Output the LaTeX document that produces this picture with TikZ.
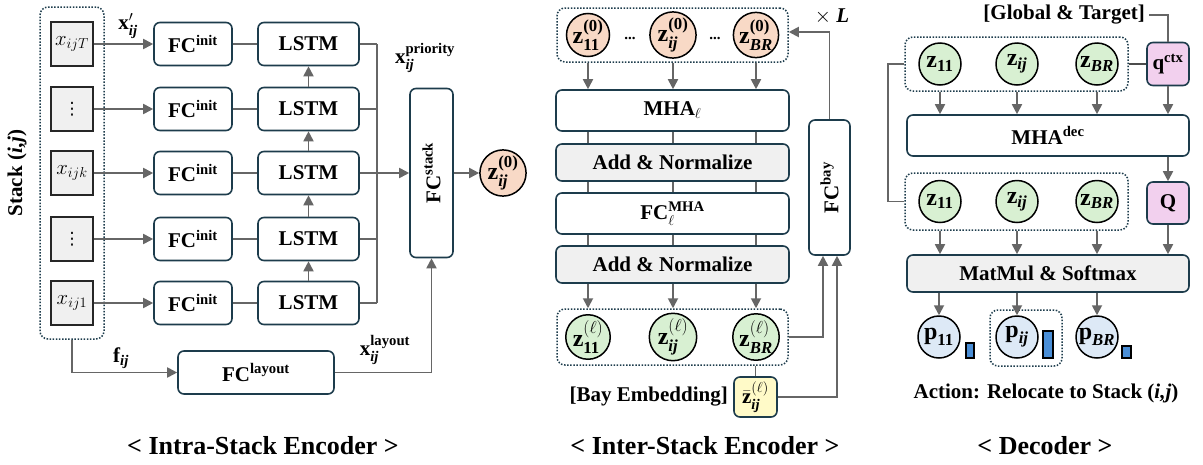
\documentclass[tikz,border=0pt]{standalone}
\usepackage{amsmath}
\usepackage{graphicx}
\usepackage{fontspec}
\setmainfont{Liberation Serif}
\newfontfamily\symfont{DejaVu Sans}
\usetikzlibrary{arrows.meta}

\definecolor{edge}{HTML}{1D3C4C}
\definecolor{wirec}{HTML}{666666}
\definecolor{panel}{HTML}{F0F0F0}
\definecolor{peach}{HTML}{F8D9C6}
\definecolor{mint}{HTML}{D8F0D2}
\definecolor{rose}{HTML}{F2D0EE}
\definecolor{sky}{HTML}{DDE9F6}
\definecolor{barc}{HTML}{4A8ED6}
\definecolor{cream}{HTML}{FFFAC8}

% bold upright / bold italic text inside math
\newcommand{\bt}[1]{\text{\bfseries #1}}
\newcommand{\bit}[1]{\text{\bfseries\itshape #1}}
\newcommand{\vdotsglyph}{{\symfont\mdseries\fontsize{17}{17}\selectfont ⋮}}

\tikzset{
  box/.style={draw=edge, line width=1.6pt, rounded corners=6pt, fill=white, inner sep=0pt},
  greybox/.style={box, fill=panel},
  cell/.style={draw=black!85, line width=1.5pt, fill=panel, inner sep=0pt, minimum width=42, minimum height=44},
  group/.style={draw=edge, line width=1.5pt, dash pattern=on 1.5pt off 1.6pt, rounded corners=8pt, inner sep=0pt},
  ball/.style={circle, draw=black, line width=1.5pt, inner sep=0pt, minimum size=42,
               font=\fontsize{24}{26}\selectfont\bfseries},
  wire/.style={draw=wirec, line width=1.8pt},
  arr/.style={wire, -{Triangle[length=10pt,width=10pt]}},
  link/.style={draw=wirec, line width=1.2pt},
  lab/.style={inner sep=0pt},
  heading/.style={inner sep=0pt, font=\fontsize{26}{30}\selectfont\bfseries},
  bar/.style={draw=black, line width=1.2pt, fill=barc, inner sep=0pt, minimum width=9},
}

\begin{document}
\begin{tikzpicture}[x=1pt, y=-1pt, font=\fontsize{21}{25}\selectfont\bfseries]
\useasboundingbox (0,0) rectangle (1203,464);

% ---------------- Intra-stack encoder ----------------
\node[group, minimum width=64, minimum height=332] (stackgrp) at (72,173) {};
\node[lab, rotate=90] (stacklab) at (17,173) {Stack (\textit{i,j})};

\foreach \n/\y/\t in {1/44/{$x_{ijT}$},2/109/{\vdotsglyph},3/173/{$x_{ijk}$},4/239/{\vdotsglyph},5/303/{$x_{ij1}$}} {
  \node[cell] (in\n) at (72,\y) {\t};
  \node[box, minimum width=78, minimum height=43] (fc\n) at (193,\y) {FC$^{\bt{init}}$};
  \node[box, minimum width=101, minimum height=43] (lstm\n) at (308.5,\y) {LSTM};
  \coordinate (bus\n) at (377,\y);
  \draw[arr] (in\n) -- (fc\n);
  \draw[wire] (fc\n) -- (lstm\n);
  \draw[wire] (lstm\n) -- (bus\n);
}
\foreach \a/\b in {5/4,4/3,3/2,2/1} \draw[arr] (lstm\a) -- (lstm\b);
\draw[wire] (bus1) -- (bus5);

\node[box, minimum width=43, minimum height=169] (fcstack) at (431.5,173)
  {\rotatebox{90}{FC$^{\bt{stack}}$}};
\draw[arr] (bus3) -- (fcstack);
\node[ball, fill=peach] (zst) at (503,173) {$\bt{z}^{\bt{(0)}}_{\bit{ij}}$};
\draw[arr] (fcstack) -- (zst);

\node[box, minimum width=156, minimum height=43] (fclay) at (256,372.5) {FC$^{\bt{layout}}$};
\draw[arr] (stackgrp.south) |- (fclay.west);
\draw[arr] (fclay.east) -| (fcstack.south);

\node[lab] (xprime) at (128,26) {$\bt{x}'_{\bit{ij}}$};
\node[lab] (xprio) at (425,58) {$\bt{x}^{\bt{priority}}_{\bit{ij}}$};
\node[lab] (fij) at (121,358) {$\bt{f}_{\bit{ij}}$};
\node[lab] (xlay) at (385,350) {$\bt{x}^{\bt{layout}}_{\bit{ij}}$};

\node[heading] (title1) at (263,446) {< Intra-Stack Encoder >};

% ---------------- Inter-stack encoder ----------------
\node[group, minimum width=231, minimum height=54] (topgrp) at (672.5,35) {};
\node[ball, fill=peach] (za1) at (588,35) {$\bt{z}^{\bt{(0)}}_{\bt{11}}$};
\node[ball, fill=peach] (za2) at (673,35) {$\bt{z}^{\bt{(0)}}_{\bit{ij}}$};
\node[ball, fill=peach] (za3) at (756,35) {$\bt{z}^{\bt{(0)}}_{\bit{BR}}$};
\node[lab, font=\fontsize{15}{15}\selectfont\bfseries] (dots1) at (630,38) {...};
\node[lab, font=\fontsize{15}{15}\selectfont\bfseries] (dots2) at (715,38) {...};

\node[box, minimum width=233, minimum height=41] (mha) at (672.5,110.5) {MHA$_{\ell}$};
\node[greybox, minimum width=233, minimum height=37] (an1) at (672.5,162.5) {Add \& Normalize};
\node[box, minimum width=233, minimum height=41] (fcmha) at (672.5,213.5) {FC$^{\bt{MHA}}_{\ell}$};
\node[greybox, minimum width=233, minimum height=37] (an2) at (672.5,264.5) {Add \& Normalize};

\node[group, minimum width=231, minimum height=56] (botgrp) at (672.5,337) {};
\node[ball, fill=mint] (zl1) at (588,337) {$\bt{z}^{(\ell)}_{\bt{11}}$};
\node[ball, fill=mint] (zl2) at (673,337) {$\bt{z}^{(\ell)}_{\bit{ij}}$};
\node[ball, fill=mint] (zl3) at (756,337) {$\bt{z}^{(\ell)}_{\bit{BR}}$};

\foreach \k in {1,2,3} {
  \draw[arr] (topgrp.south -| za\k) -- (mha.north -| za\k);
  \draw[link] (mha.south -| za\k) -- (an1.north -| za\k);
  \draw[link] (an1.south -| za\k) -- (fcmha.north -| za\k);
  \draw[link] (fcmha.south -| za\k) -- (an2.north -| za\k);
  \draw[arr] (an2.south -| za\k) -- (botgrp.north -| za\k);
}

\node[box, fill=cream, minimum width=43, minimum height=40] (bay) at (755.5,397)
  {$\bar{\bt{z}}^{(\ell)}_{\bit{ij}}$};
\draw[wire] (botgrp.south -| bay) -- (bay.north);
\node[lab, anchor=east] (baylab) at (728,397) {[Bay Embedding]};

\node[box, minimum width=41, minimum height=135] (fcbay) at (829.5,187.5)
  {\rotatebox{90}{FC$^{\bt{bay}}$}};
\draw[arr] (botgrp.east) -| ([xshift=-6.5pt]fcbay.south);
\draw[arr] (bay.east) -| ([xshift=7.5pt]fcbay.south);
\draw[arr] (fcbay.north) |- ([yshift=3pt]topgrp.east);
\node[lab] (times) at (832,16) {$\times$ \textit{L}};

\node[heading] (title2) at (705,446) {< Inter-Stack Encoder >};

% ---------------- Decoder ----------------
\node[lab, anchor=east] (glob) at (1145,15) {[Global \& Target]};
\node[box, fill=rose, minimum width=42, minimum height=43] (qctx) at (1168,64) {q$^{\bt{ctx}}$};
\draw[wire] ([xshift=4pt]glob.east) -| (qctx.north);

\node[group, minimum width=223, minimum height=54] (dtop) at (1016.5,64) {};
\node[ball, fill=mint] (d1) at (940,64) {$\bt{z}_{\bt{11}}$};
\node[ball, fill=mint] (d2) at (1017,64) {$\bt{z}_{\bit{ij}}$};
\node[ball, fill=mint] (d3) at (1097,64) {$\bt{z}_{\bit{BR}}$};
\draw[draw=black!70, line width=2.6pt] (dtop.east) -- (qctx.west);

\node[box, minimum width=282, minimum height=41] (mhadec) at (1048,135.5) {MHA$^{\bt{dec}}$};

\node[box, fill=rose, minimum width=42, minimum height=42] (qq) at (1168,203) {Q};

\node[group, minimum width=223, minimum height=57] (dbot) at (1016.5,201.5) {};
\node[ball, fill=mint] (e1) at (940,201.5) {$\bt{z}_{\bt{11}}$};
\node[ball, fill=mint] (e2) at (1017,201.5) {$\bt{z}_{\bit{ij}}$};
\node[ball, fill=mint] (e3) at (1097,201.5) {$\bt{z}_{\bit{BR}}$};
\draw[wire] (dtop.west) -- ++(-16,0) |- (dbot.west);

\node[greybox, minimum width=282, minimum height=37] (mm) at (1048,273.5) {MatMul \& Softmax};

\node[ball, fill=sky] (p1) at (939,337) {$\bt{p}_{\bt{11}}$};
\node[ball, fill=sky] (p2) at (1017,337) {$\bt{p}_{\bit{ij}}$};
\node[ball, fill=sky] (p3) at (1097,337) {$\bt{p}_{\bit{BR}}$};
\node[group, minimum width=72, minimum height=56] (pick) at (1026,338) {};

\node[bar, minimum width=8, minimum height=15] (bar1) at (970,350.5) {};
\node[bar, minimum width=10, minimum height=27] (bar2) at (1048,344.5) {};
\node[bar, minimum width=9, minimum height=12] (bar3) at (1126.5,352) {};

\foreach \k in {1,2,3} {
  \draw[arr] (dtop.south -| d\k) -- (mhadec.north -| d\k);
  \draw[arr] (dbot.south -| e\k) -- (mm.north -| e\k);
  \draw[arr] (mm.south -| p\k) -- (p\k);
}
\draw[arr] (qctx) -- (mhadec.north -| qctx);
\draw[arr] (mhadec.south -| qq) -- (qq);
\draw[arr] (qq) -- (mm.north -| qq);

\node[lab] (action) at (1046,393) {Action: Relocate to Stack (\textit{i,j})};
\node[heading] (title3) at (1045,446) {< Decoder >};

\end{tikzpicture}
\end{document}
